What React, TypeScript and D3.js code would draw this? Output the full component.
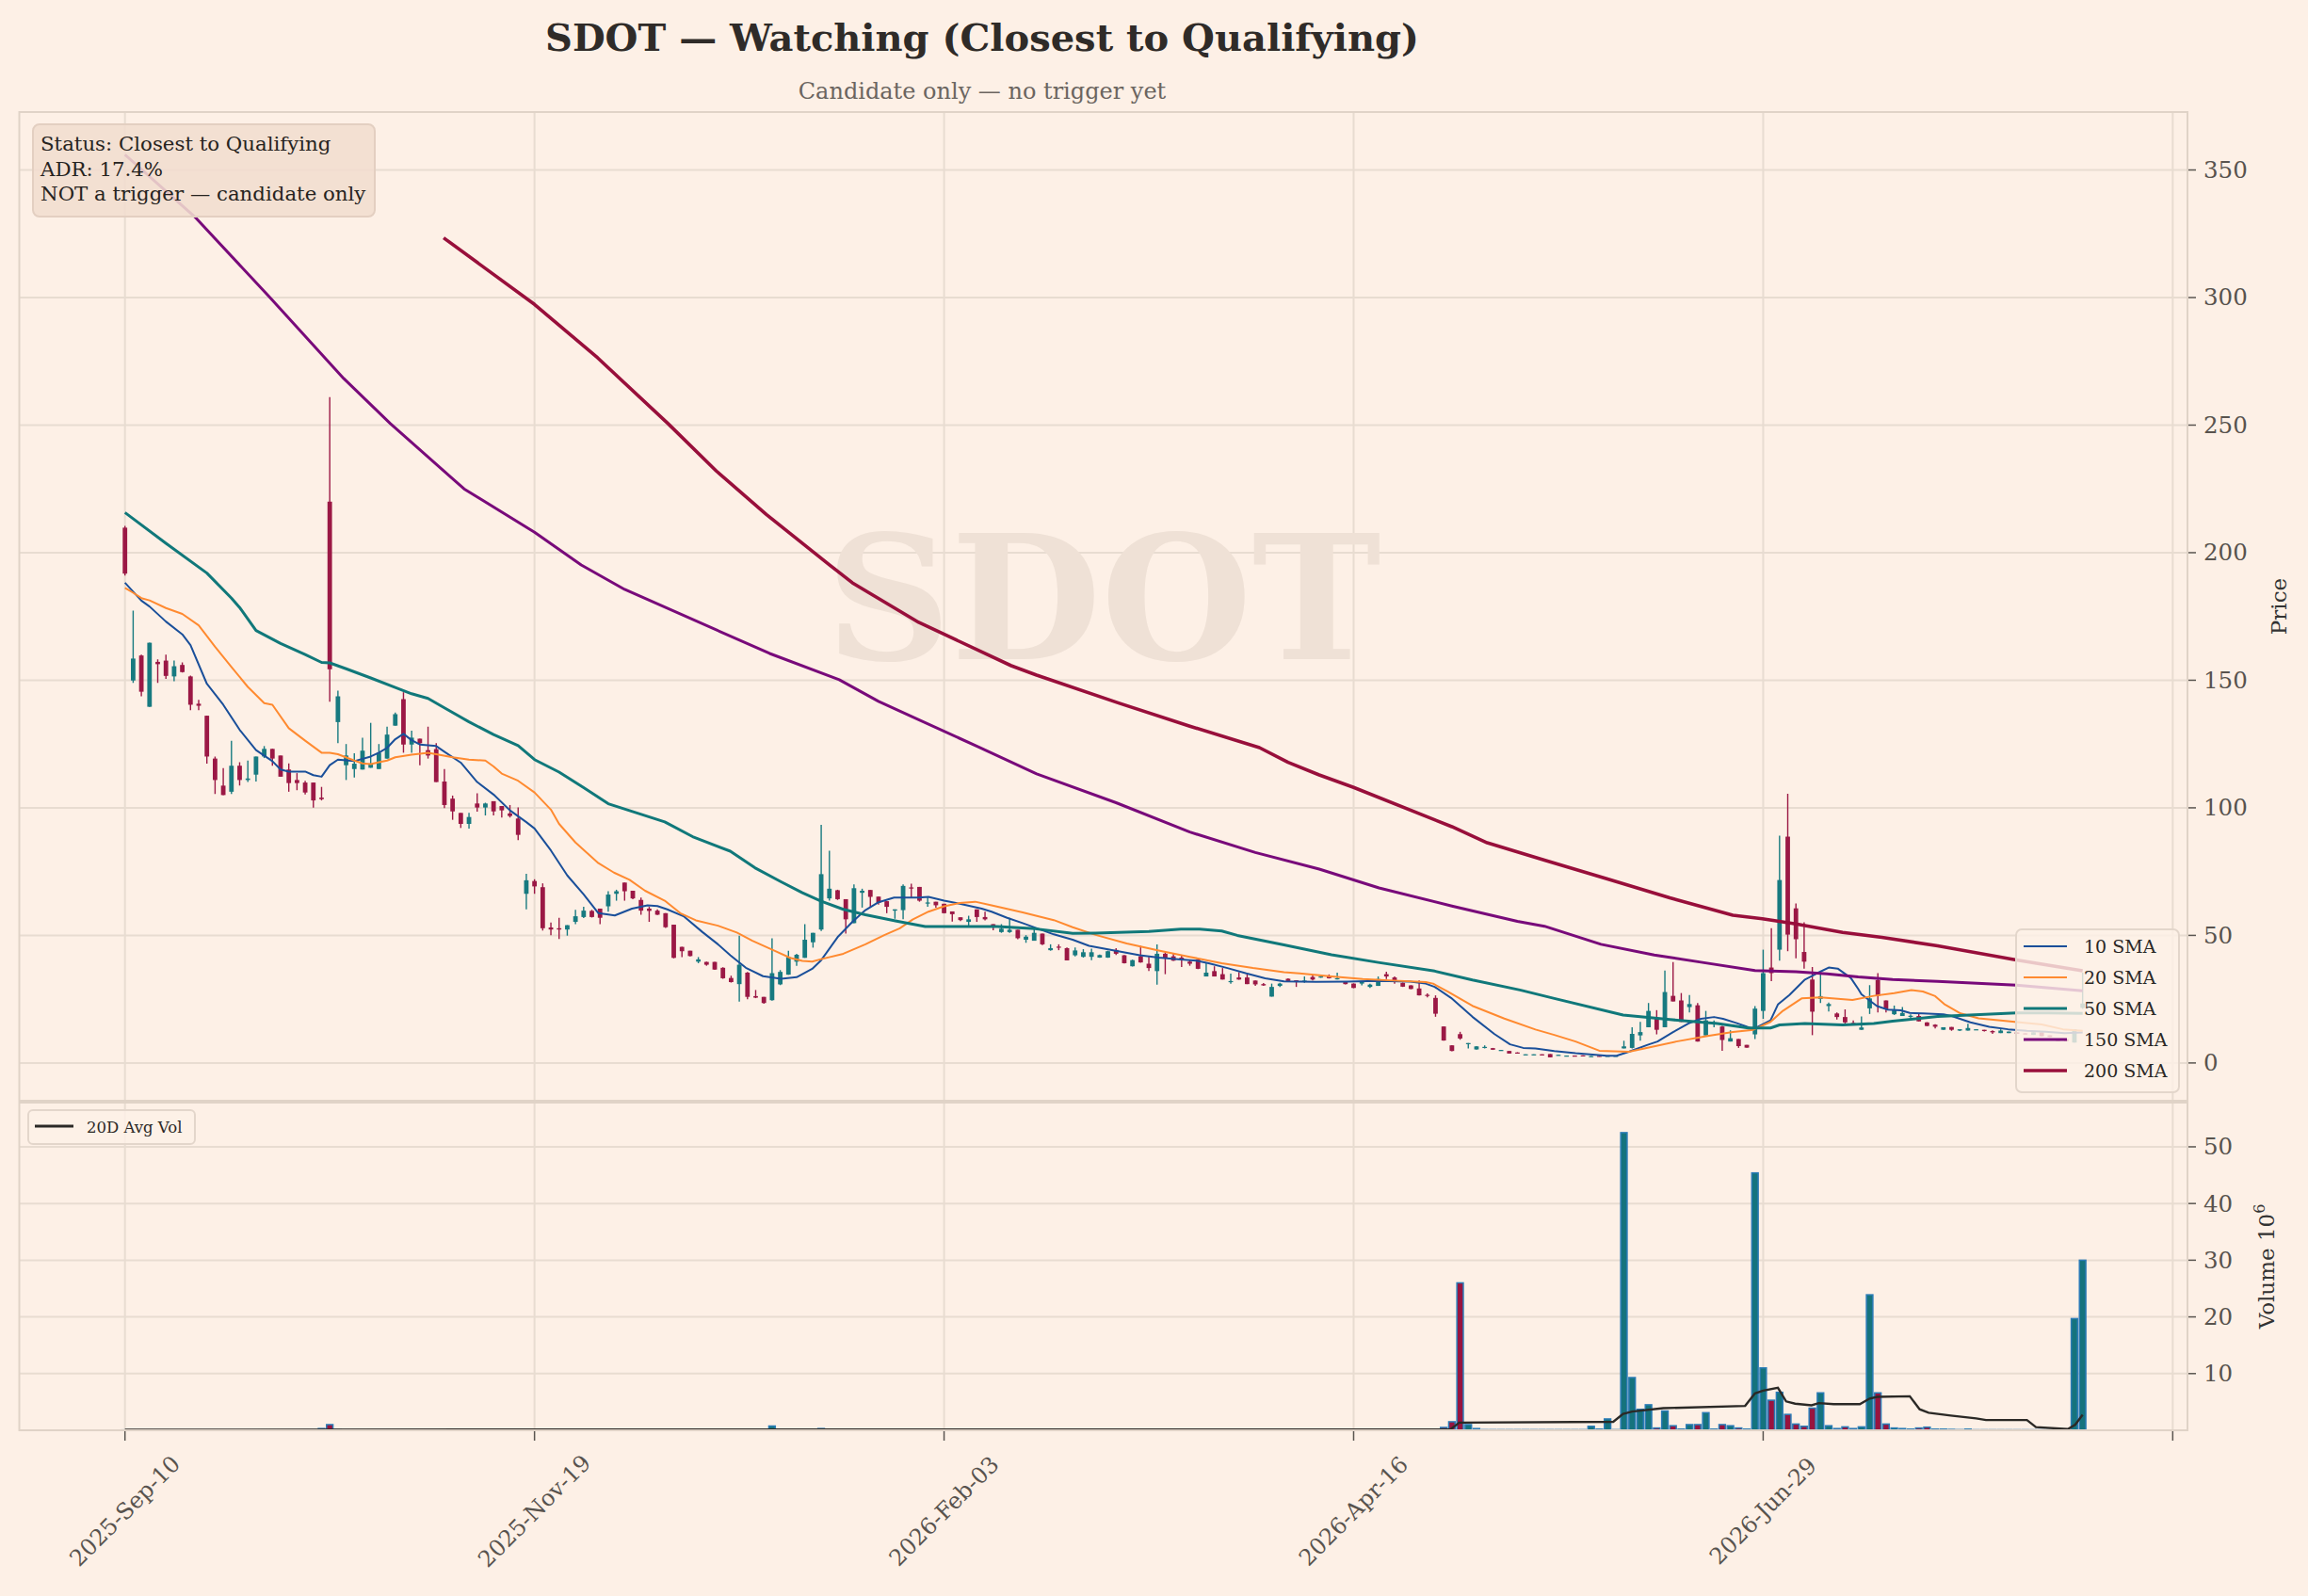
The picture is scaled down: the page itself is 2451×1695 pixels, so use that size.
import * as d3 from 'd3';

const W = 2451;
const H = 1695;

// x ticks are trading-day indices
const tickIdx = [0, 50, 100, 150, 200, 250];
const tickLabels = ['2025-Sep-10', '2025-Nov-19', '2026-Feb-03', '2026-Apr-16', '2026-Jun-29', ''];
const priceTicks = [0, 50, 100, 150, 200, 250, 300, 350];
const volTicks = [10, 20, 30, 40, 50];

const opens = [
  209.8, 149.9, 159.7, 139.6, 157.2, 157.7, 151.5, 156.0, 151.5, 140.8,
  136.1, 119.3, 108.7, 106.3, 116.5, 110.9, 113.0, 120.1, 123.1, 120.5,
  115.0, 110.9, 109.9, 109.9, 104.0, 220.0, 133.6, 116.7, 115.2, 115.0,
  115.7, 115.2, 119.3, 132.2, 142.6, 124.8, 127.1, 122.6, 123.0, 110.3,
  103.6, 98.0, 93.7, 101.7, 100.1, 102.6, 100.7, 97.8, 95.8, 66.3,
  71.3, 68.9, 53.1, 52.8, 52.3, 55.3, 57.2, 59.6, 60.5, 61.4,
  66.3, 70.7, 67.5, 63.9, 60.5, 59.7, 58.7, 54.2, 45.5, 44.0,
  39.7, 39.6, 39.6, 37.3, 33.3, 30.9, 35.4, 26.2, 25.9, 24.6,
  30.8, 34.6, 39.7, 41.2, 47.3, 52.3, 64.5, 67.7, 64.2, 54.8,
  66.7, 67.8, 65.2, 63.4, 59.7, 59.9, 68.8, 69.0, 62.6, 63.2,
  62.4, 59.4, 57.1, 55.3, 60.2, 57.2, 54.4, 51.3, 51.3, 52.2,
  48.3, 47.9, 50.7, 44.2, 45.6, 45.0, 42.2, 41.6, 41.6, 41.3,
  41.3, 44.3, 42.2, 37.9, 41.8, 38.9, 36.0, 42.8, 41.8, 41.3,
  39.7, 40.6, 33.9, 36.0, 34.8, 31.7, 33.5, 33.5, 32.3, 30.9,
  26.0, 30.2, 33.0, 32.4, 31.7, 33.7, 33.7, 34.2, 32.9, 31.9,
  31.1, 31.1, 29.8, 30.2, 34.8, 33.5, 31.4, 30.4, 29.2, 26.7,
  25.5, 14.3, 6.9, 11.3, 7.5, 5.3, 6.1, 5.8, 4.8, 4.7,
  4.1, 3.2, 3.2, 3.4, 3.5, 2.9, 2.6, 2.9, 3.0, 2.4,
  2.8, 2.5, 2.5, 5.7, 5.9, 10.8, 14.0, 17.7, 14.0, 26.3,
  24.5, 21.9, 22.6, 10.8, 15.5, 14.3, 8.4, 9.4, 7.1, 11.2,
  20.4, 37.4, 44.4, 88.7, 60.6, 43.5, 32.7, 25.1, 22.3, 19.4,
  18.0, 15.7, 13.0, 21.4, 32.5, 24.5, 19.1, 18.4, 18.2, 18.4,
  15.9, 15.0, 13.0, 14.1, 12.7, 12.7, 12.9, 13.0, 12.5, 11.7,
  11.7, 12.0, 11.6, 11.0, 12.0, 10.8, 9.5, 9.3, 8.0, 21.6,
];

const highs = [
  210.5, 177.3, 160.0, 164.7, 158.2, 160.0, 157.7, 157.0, 151.8, 142.3,
  136.1, 120.1, 115.6, 126.3, 117.9, 118.5, 120.1, 124.2, 123.1, 120.5,
  117.4, 113.6, 110.6, 109.9, 108.2, 261.0, 145.9, 125.0, 121.4, 127.5,
  133.3, 125.0, 131.8, 137.3, 145.3, 130.2, 127.1, 131.8, 125.3, 115.2,
  104.8, 98.0, 98.0, 105.7, 102.0, 102.6, 100.7, 101.1, 100.2, 74.1,
  72.0, 70.4, 55.0, 56.9, 54.0, 60.0, 61.2, 60.0, 60.5, 67.3,
  67.9, 70.7, 67.5, 64.8, 61.2, 60.2, 58.7, 54.2, 45.5, 44.0,
  41.5, 39.7, 39.6, 37.5, 34.2, 49.9, 35.7, 28.6, 25.9, 48.9,
  36.4, 44.0, 42.8, 54.4, 51.0, 93.3, 83.2, 67.9, 64.2, 70.0,
  68.3, 67.8, 65.2, 63.4, 60.2, 70.0, 70.3, 69.0, 64.8, 63.2,
  62.4, 59.4, 57.1, 57.7, 60.2, 59.3, 54.4, 54.4, 56.9, 52.2,
  50.1, 53.2, 50.7, 46.5, 46.5, 45.3, 45.3, 44.6, 44.8, 42.5,
  44.0, 45.0, 42.3, 40.5, 45.9, 41.6, 46.5, 43.4, 43.1, 42.2,
  40.3, 40.7, 39.4, 37.9, 37.2, 35.0, 35.6, 34.8, 32.3, 31.3,
  31.1, 31.4, 33.2, 32.4, 33.9, 34.4, 34.2, 34.7, 35.4, 32.0,
  31.2, 32.0, 31.1, 33.9, 35.8, 33.9, 31.5, 30.5, 32.3, 27.3,
  26.5, 14.4, 7.0, 12.2, 7.8, 6.6, 6.9, 5.9, 5.1, 4.7,
  4.2, 3.4, 3.4, 3.4, 3.5, 3.2, 2.9, 2.9, 3.0, 2.7,
  2.8, 2.8, 2.8, 8.7, 14.0, 16.1, 23.5, 20.7, 36.2, 39.5,
  27.4, 26.6, 23.5, 20.4, 16.7, 14.5, 12.8, 9.4, 7.1, 22.3,
  44.4, 52.8, 89.1, 105.5, 62.5, 55.1, 37.6, 35.2, 23.7, 19.8,
  21.0, 16.7, 18.2, 30.5, 35.2, 24.5, 22.5, 21.9, 19.1, 19.4,
  16.0, 15.2, 14.0, 14.1, 13.2, 15.4, 13.2, 13.0, 12.8, 13.2,
  12.3, 12.0, 11.6, 12.0, 12.0, 10.8, 9.5, 9.3, 13.2, 35.4,
];

const lows = [
  191.0, 149.0, 143.7, 139.6, 149.0, 150.5, 149.6, 153.0, 138.3, 138.3,
  117.3, 105.4, 105.0, 105.4, 108.7, 110.1, 110.3, 119.5, 116.5, 112.2,
  106.3, 106.9, 105.2, 100.1, 102.9, 141.6, 125.3, 110.9, 111.9, 115.0,
  115.7, 115.2, 119.3, 132.2, 121.6, 121.6, 116.7, 119.3, 110.1, 99.9,
  95.3, 92.1, 91.9, 98.5, 97.0, 97.0, 96.2, 96.2, 87.3, 60.2,
  66.3, 51.9, 50.1, 48.6, 49.9, 54.4, 56.8, 57.0, 54.4, 59.3,
  63.6, 63.6, 64.2, 58.1, 55.3, 58.0, 52.9, 41.0, 41.5, 41.8,
  39.1, 38.1, 36.5, 33.0, 31.5, 24.0, 25.0, 25.4, 23.2, 24.4,
  30.5, 34.6, 38.1, 41.2, 45.2, 51.7, 63.6, 63.9, 50.7, 54.8,
  60.9, 61.2, 62.1, 58.7, 56.5, 56.3, 64.8, 63.2, 61.2, 60.9,
  58.6, 55.4, 55.6, 53.6, 55.3, 55.9, 52.0, 51.0, 51.0, 48.5,
  47.1, 47.9, 46.2, 44.0, 44.2, 40.2, 41.8, 41.3, 40.3, 41.2,
  41.2, 42.3, 39.0, 37.8, 39.3, 36.0, 30.7, 34.8, 40.0, 37.6,
  38.1, 36.8, 33.9, 33.9, 32.7, 31.1, 32.6, 30.9, 30.2, 30.2,
  26.0, 29.8, 31.7, 29.8, 31.4, 32.3, 33.4, 33.1, 32.7, 30.8,
  29.3, 30.4, 29.4, 30.2, 32.9, 31.1, 29.8, 28.9, 26.4, 25.7,
  18.1, 8.7, 4.6, 9.1, 5.7, 5.2, 5.7, 5.1, 4.8, 3.7,
  3.8, 3.2, 3.2, 3.1, 2.2, 2.9, 2.6, 2.6, 2.7, 2.4,
  2.5, 2.5, 2.5, 5.7, 5.7, 8.7, 14.0, 11.2, 14.0, 24.1,
  16.1, 19.8, 8.4, 10.8, 14.0, 4.8, 8.4, 5.9, 6.0, 9.4,
  17.3, 32.1, 40.1, 43.8, 41.0, 37.0, 10.9, 23.5, 20.2, 17.0,
  15.5, 15.1, 13.0, 19.2, 19.8, 19.8, 18.8, 18.4, 17.5, 16.3,
  14.4, 13.5, 13.0, 12.6, 12.5, 12.7, 12.9, 12.3, 11.4, 11.7,
  11.7, 11.4, 11.3, 11.0, 10.5, 10.2, 8.5, 8.5, 8.0, 21.2,
];

const closes = [
  191.8, 158.5, 145.5, 164.7, 156.3, 151.7, 155.5, 153.2, 140.4, 140.0,
  120.1, 110.9, 105.0, 116.5, 110.9, 111.5, 120.1, 123.1, 119.3, 112.2,
  109.7, 109.7, 106.0, 102.9, 103.4, 154.3, 143.7, 120.5, 117.3, 122.4,
  117.4, 121.6, 128.7, 136.7, 124.8, 127.5, 125.3, 120.5, 110.1, 101.1,
  98.6, 93.7, 96.4, 100.1, 101.7, 98.6, 99.0, 96.8, 89.4, 71.6,
  69.2, 52.8, 52.3, 52.3, 54.0, 57.5, 59.7, 57.2, 56.9, 66.0,
  67.3, 67.3, 64.5, 59.7, 59.6, 58.1, 53.2, 41.2, 43.8, 41.9,
  40.6, 38.5, 36.6, 33.2, 31.7, 38.5, 25.9, 25.6, 23.5, 35.2,
  35.7, 41.5, 42.4, 48.3, 51.0, 74.0, 68.3, 64.2, 56.3, 68.5,
  67.5, 65.1, 62.8, 61.2, 60.2, 69.4, 68.5, 63.6, 62.9, 61.8,
  58.7, 58.3, 56.0, 56.3, 57.2, 56.3, 53.2, 52.6, 52.2, 48.9,
  49.5, 51.0, 46.5, 45.0, 45.3, 40.2, 44.1, 43.4, 43.4, 42.3,
  43.8, 42.8, 39.1, 40.3, 39.4, 37.2, 42.8, 41.3, 40.1, 40.6,
  38.9, 36.9, 35.4, 33.9, 32.7, 32.1, 32.7, 30.9, 30.8, 30.4,
  29.8, 31.1, 32.1, 31.7, 32.3, 32.7, 33.9, 33.2, 33.2, 30.9,
  29.4, 31.7, 30.7, 32.9, 33.9, 32.3, 29.9, 29.0, 26.5, 26.4,
  19.3, 8.8, 4.7, 9.6, 7.8, 6.5, 6.3, 5.2, 5.1, 3.7,
  3.8, 3.4, 3.4, 3.1, 2.2, 3.2, 2.9, 2.6, 2.7, 2.7,
  2.5, 2.8, 2.8, 6.5, 11.4, 12.1, 20.4, 13.0, 27.8, 24.1,
  16.1, 23.1, 8.4, 16.7, 15.9, 9.0, 9.7, 6.6, 6.0, 21.3,
  35.2, 35.2, 71.7, 50.3, 48.5, 39.7, 20.1, 26.2, 23.1, 18.0,
  15.9, 15.3, 13.9, 25.3, 26.3, 21.0, 20.6, 19.6, 18.5, 16.3,
  14.5, 14.2, 14.0, 13.0, 13.2, 13.7, 13.2, 12.5, 12.0, 12.7,
  12.3, 11.4, 11.3, 12.0, 10.5, 10.2, 8.5, 8.5, 13.2, 23.3,
];

// volume in millions
const volumes = [
  0.05, 0.05, 0.05, 0.05, 0.05, 0.05, 0.05, 0.05, 0.05, 0.05,
  0.05, 0.05, 0.05, 0.05, 0.05, 0.05, 0.05, 0.05, 0.05, 0.05,
  0.05, 0.05, 0.05, 0.05, 0.3, 1.0, 0.1, 0.05, 0.05, 0.05,
  0.05, 0.05, 0.05, 0.05, 0.05, 0.05, 0.05, 0.05, 0.05, 0.05,
  0.05, 0.05, 0.05, 0.05, 0.05, 0.05, 0.05, 0.05, 0.05, 0.05,
  0.05, 0.05, 0.05, 0.05, 0.05, 0.05, 0.05, 0.05, 0.05, 0.05,
  0.05, 0.05, 0.05, 0.05, 0.05, 0.05, 0.05, 0.05, 0.05, 0.05,
  0.05, 0.05, 0.05, 0.05, 0.05, 0.05, 0.05, 0.05, 0.05, 0.75,
  0.05, 0.05, 0.05, 0.05, 0.05, 0.3, 0.05, 0.05, 0.05, 0.05,
  0.05, 0.05, 0.05, 0.05, 0.05, 0.05, 0.05, 0.05, 0.05, 0.05,
  0.05, 0.05, 0.05, 0.05, 0.05, 0.05, 0.05, 0.05, 0.05, 0.05,
  0.05, 0.05, 0.05, 0.05, 0.05, 0.05, 0.05, 0.05, 0.05, 0.05,
  0.05, 0.05, 0.05, 0.05, 0.05, 0.05, 0.05, 0.05, 0.05, 0.05,
  0.05, 0.05, 0.05, 0.05, 0.05, 0.05, 0.05, 0.05, 0.05, 0.05,
  0.05, 0.05, 0.05, 0.05, 0.05, 0.05, 0.05, 0.05, 0.05, 0.05,
  0.05, 0.05, 0.05, 0.05, 0.05, 0.05, 0.05, 0.05, 0.05, 0.05,
  0.05, 0.5, 1.5, 26.0, 1.0, 0.3, 0.1, 0.1, 0.1, 0.1,
  0.1, 0.1, 0.1, 0.1, 0.1, 0.1, 0.1, 0.1, 0.1, 0.7,
  0.2, 2.0, 0.1, 52.5, 9.3, 3.7, 4.5, 0.4, 3.4, 0.8,
  0.2, 1.0, 1.0, 3.1, 0.2, 1.0, 0.8, 0.4, 0.2, 45.4,
  11.0, 5.3, 6.7, 2.8, 1.1, 0.7, 3.9, 6.6, 0.8, 0.3,
  0.6, 0.3, 0.6, 23.9, 6.6, 1.1, 0.4, 0.3, 0.2, 0.4,
  0.55, 0.2, 0.2, 0.15, 0.1, 0.2, 0.08, 0.08, 0.08, 0.08,
  0.08, 0.08, 0.08, 0.08, 0.08, 0.08, 0.08, 0.08, 19.7, 30.0,
];

// moving averages as [bar index, value]
const sma10: [number, number][] = [
  [0, 188.2], [2, 181.2], [3, 178.9], [5, 173], [7, 168], [8, 163.8], [10, 148.6], [12, 140.4],
  [14, 130.6], [16, 122.6], [18, 118.3], [19, 115], [20, 114.2], [22, 114.2], [23, 112.8], [24, 112.2],
  [25, 116.7], [26, 118.9], [28, 118.3], [30, 120.1], [31, 121.6], [32, 123.5], [33, 126.9], [34, 129],
  [35, 126.5], [36, 124.8], [38, 124.2], [39, 122], [41, 117.7], [43, 110.1], [45, 105.2], [47, 99],
  [49, 94.4], [50, 91.9], [52, 83.3], [54, 73.5], [56, 66.1], [57.8, 58.7], [59.8, 57.8], [61.9, 60.5],
  [63.8, 61.8], [65, 61.5], [66.2, 60.2], [68.2, 57.5], [70.5, 51.3], [72.4, 46.5], [73.9, 42.2],
  [75.8, 37.3], [77.9, 34], [80.1, 33], [82, 33.6], [83.9, 36.9], [85, 40.3], [87, 49.3], [88.9, 55.6],
  [90.4, 59.9], [92, 63], [93.9, 64.8], [96.9, 64.8], [98.1, 65.1], [100, 63.6], [101.9, 62.4],
  [104.6, 60.5], [105.8, 59.3], [107.7, 56.9], [109.6, 54.8], [111.5, 52.6], [113.4, 50.4], [115.7, 48.3],
  [117.7, 45.9], [120.8, 44.1], [123.9, 42.2], [126.2, 41.3], [128.9, 40.6], [130.8, 40.1], [132.3, 39.1],
  [134.6, 37.2], [136.9, 35.1], [139.2, 33.2], [141.5, 32], [145.4, 31.8], [149.2, 31.9], [153, 32.2],
  [156.9, 31.9], [158.8, 31.1], [159.9, 29.8], [161.9, 25.5], [164.5, 18.1], [167.2, 11.3], [169.1, 7.3],
  [170.7, 5.9], [172.2, 5.7], [174.5, 4.7], [177.1, 3.8], [180.9, 2.8], [182.1, 2.8], [183.6, 4.4],
  [185.9, 7.1], [187.1, 8.4], [189, 12.1], [190.9, 15.5], [192.4, 17.3], [194, 18], [195.1, 17.3],
  [196.7, 15.7], [197.8, 14.5], [198.8, 13.3], [200.9, 16.7], [201.8, 22.9], [203.2, 26.6], [205.1, 32.7],
  [206.6, 35.2], [208, 37.4], [209.1, 37], [210.7, 33.3], [211.6, 29], [212, 26.9], [213.9, 22.3],
  [215.2, 20.9], [216.8, 20.6], [217.9, 19.6], [219.5, 19.4], [222, 19.1], [223, 18.4], [225.3, 15.9],
  [227.6, 14.2], [229.9, 13.2], [232.2, 12.6], [234.5, 12.2], [236.8, 11.7], [239, 12.0],
];

const sma20: [number, number][] = [
  [0, 186.2], [1, 184.3], [2, 182.2], [3, 181.3], [5, 178.3], [7, 176], [9, 171.5], [11, 163.1],
  [13, 155.2], [15, 147.4], [17, 141], [18, 140.4], [20, 131.2], [22, 126.3], [24, 121.6], [25, 121.6],
  [26, 121], [28, 118.5], [29, 117.4], [30, 117.1], [31, 117.9], [32, 118.5], [33, 119.8], [35, 120.8],
  [37, 121.6], [38, 121], [40, 119.8], [42, 118.9], [44, 118.5], [45, 116.2], [46, 113.4], [48, 110.6],
  [50, 106], [52, 99.3], [53, 93.7], [55, 86.4], [57.8, 78.3], [59.7, 74.6], [61.6, 71.8], [63.5, 67.5],
  [65.9, 63.6], [67.8, 58.7], [69.7, 55.9], [72.4, 53.8], [74.7, 51.1], [76.6, 47.9], [78.9, 44.6],
  [81.2, 41.2], [82.7, 40], [83.9, 39.7], [85, 40.7], [87.7, 42.8], [90.4, 46.5], [92.7, 50.1],
  [94.6, 52.8], [96.2, 56.3], [98.1, 59.3], [100, 61.4], [101.9, 62.7], [103.8, 63.2], [105.8, 61.8],
  [109.6, 59], [113.4, 56], [115.7, 53.2], [118.5, 50.2], [122.3, 46.8], [126.2, 44.1], [130, 41.6],
  [133.9, 39.1], [137.7, 37.2], [141.5, 35.6], [143.4, 35.1], [147.3, 33.9], [151.1, 32.9], [154.9, 32.3],
  [158.8, 31.7], [159.7, 31.1], [161.5, 28], [164.5, 22.4], [168.4, 17.4], [172.2, 13.1], [174.5, 11.0],
  [177.1, 8.4], [180, 4.8], [183.6, 4.4], [185.5, 5.7], [189.4, 8.4], [193.2, 10.6], [196.3, 12.1],
  [198.8, 13], [200.9, 16.1], [202.4, 20.4], [204.7, 25.3], [207, 25.7], [210.9, 24.7], [213.5, 26.3],
  [216, 27.4], [218.1, 28.6], [219.5, 28], [221, 26.2], [222.1, 23.1], [224.1, 19.4], [226.3, 17.5],
  [229, 16.7], [231.3, 15.9], [234, 15.1], [236.6, 13.2], [239, 12.6],
];

const sma50: [number, number][] = [
  [0, 215.7], [5, 203.7], [10, 192], [13, 182.2], [14, 178.5], [16, 169.5], [19, 164.4], [22, 160.1],
  [24, 157], [25, 156.8], [27, 154.5], [30, 150.9], [33, 147.2], [35, 144.7], [37, 142.9], [39, 139.2],
  [42, 133.7], [45, 128.7], [48, 124.4], [50, 118.9], [53, 114], [56, 107.9], [59, 101.6], [61.6, 98.9],
  [65.9, 94.5], [69.3, 88.7], [73.9, 83], [76.9, 76.5], [80.1, 71], [82.7, 66.7], [85, 63.4],
  [87.7, 60.2], [90.4, 58.1], [94.2, 55.6], [97.7, 53.5], [101.9, 53.5], [106.5, 53.5], [111.1, 52.6],
  [115.7, 50.8], [118.5, 50.9], [125, 51.5], [128.9, 52.5], [131.2, 52.5], [133.9, 51.7], [135.8, 50],
  [141.5, 46.3], [147.3, 42.4], [153, 39.4], [159.9, 36], [164.5, 32.5], [170.3, 28.6], [174.5, 25.3],
  [182.9, 18.8], [188.6, 17], [194.4, 15.5], [198.2, 13.7], [200.9, 13.7], [202, 14.9], [205.1, 15.5],
  [209.7, 14.9], [213.5, 15.5], [215.8, 16.4], [217.5, 16.9], [221.3, 18.2], [225.2, 18.8],
  [230.9, 19.6], [234.8, 19.6], [239, 19.4],
];

const sma150: [number, number][] = [
  [0, 356], [8.5, 331.7], [17.6, 300.4], [26.7, 268.3], [32.4, 250.6], [41.4, 225], [50, 208],
  [55.7, 195.2], [61, 185.6], [78.7, 160.5], [87.2, 150.2], [92, 141.7], [104.1, 124], [111.3, 113.3],
  [121, 102], [130, 90.5], [138, 82.5], [145.8, 76], [153.1, 68.6], [162, 61.5], [170, 55.5],
  [173.3, 53.6], [180.2, 46.5], [186.7, 42.3], [192.4, 39.5], [199, 36.2], [204, 35.8], [207.8, 34.9],
  [211.6, 33.7], [215.8, 32.7], [221.3, 32], [230.9, 30.5], [239, 28.3],
];

const sma200: [number, number][] = [
  [38.9, 323.4], [50, 297.3], [57.7, 276.4], [66.3, 250.6], [72.2, 232], [78.3, 215], [86, 195.2],
  [88.8, 188.2], [96.9, 172.7], [108.2, 155.7], [111.3, 152], [121.4, 141], [130, 132], [138.5, 123.6],
  [142, 117.8], [145.8, 112.9], [150, 108], [162, 92.6], [166.3, 86.3], [173.3, 79.5], [181, 72.1],
  [188.6, 64.7], [196.3, 57.9], [199.9, 56.5], [204, 54.5], [209.7, 51.2], [214.5, 49.2], [221.3, 45.9],
  [230.9, 40.4], [239, 36.1],
];

const avgVol20: [number, number][] = [
  [0, 0.1], [161.8, 0.15], [162.9, 1.35], [181.7, 1.5], [182.9, 2.9], [184, 3.3], [187.8, 3.9],
  [197.8, 4.3], [199, 6.5], [200, 7.0], [201.8, 7.5], [202.8, 5.1], [203.9, 4.7], [205.9, 4.4],
  [206.8, 4.8], [208.6, 4.6], [211.8, 4.6], [213, 5.6], [213.9, 5.9], [217.9, 6.0], [219.1, 3.7],
  [220.2, 3.1], [222.9, 2.6], [226, 2.1], [227.2, 1.8], [232.2, 1.8], [233.3, 0.55], [237.2, 0.2],
  [238.1, 1.0], [239, 2.75],
];

const smaLabels = ['10 SMA', '20 SMA', '50 SMA', '150 SMA', '200 SMA'];
const statusLines = ['Status: Closest to Qualifying', 'ADR: 17.4%', 'NOT a trigger — candidate only'];

const BG = '#fdf0e6';
const GRID = '#e8dcd1';
const SPINE = '#e0d3c7';
const UP = '#177a80';
const DOWN = '#9b1845';
const smaStyle = [
  { color: '#1a4f9a', width: 2 },
  { color: '#ff8a30', width: 2 },
  { color: '#10787a', width: 3 },
  { color: '#780a7a', width: 3 },
  { color: '#980f3b', width: 3.6 },
];

export default function App() {
  const L = 20.5;
  const R = 2323;
  const PT = 119;
  const PB = 1169;
  const VT = 1171;
  const VB = 1519;

  const x = d3.scaleLinear().domain([-12.9, 251.8]).range([L, R]);
  const yP = d3.scaleLinear().domain([-14.8, 372.7]).range([PB, PT]);
  const yV = d3.scaleLinear().domain([0, 57.8]).range([VB, VT]);

  const lineP = d3.line<[number, number]>().x((d) => x(d[0])).y((d) => yP(d[1]));
  const lineV = d3.line<[number, number]>().x((d) => x(d[0])).y((d) => yV(d[1]));

  const smaData = [sma10, sma20, sma50, sma150, sma200];
  const bodyW = 4.8;
  const volW = 6.8;

  return (
    <div style={{ position: 'absolute', left: 0, top: 0 }}>
      <svg width={W} height={H} style={{ display: 'block' }} fontFamily="'DejaVu Serif', serif">
        <defs>
          <clipPath id="pclip">
            <rect x={L} y={PT} width={R - L} height={PB - PT} />
          </clipPath>
          <clipPath id="vclip">
            <rect x={L} y={VT} width={R - L} height={VB - VT} />
          </clipPath>
        </defs>
        <rect width={W} height={H} fill={BG} />

        {/* titles */}
        <text x={1043} y={54} textAnchor="middle" fontSize={40} fontWeight="bold" fill="#2f2b28">
          SDOT — Watching (Closest to Qualifying)
        </text>
        <text x={1043} y={105} textAnchor="middle" fontSize={24} fill="#6b6560">
          Candidate only — no trigger yet
        </text>

        {/* grids */}
        {priceTicks.map((t) => (
          <line key={'pg' + t} x1={L} x2={R} y1={yP(t)} y2={yP(t)} stroke={GRID} strokeWidth={2} />
        ))}
        {volTicks.map((t) => (
          <line key={'vg' + t} x1={L} x2={R} y1={yV(t)} y2={yV(t)} stroke={GRID} strokeWidth={2} />
        ))}
        {tickIdx.map((t) => (
          <g key={'xg' + t}>
            <line x1={x(t)} x2={x(t)} y1={PT} y2={PB} stroke={GRID} strokeWidth={2} />
            <line x1={x(t)} x2={x(t)} y1={VT} y2={VB} stroke={GRID} strokeWidth={2} />
          </g>
        ))}

        {/* watermark */}
        <text x={(L + R) / 2} y={700} textAnchor="middle" fontSize={184} fontWeight="bold" fill="#efe1d6">
          SDOT
        </text>

        {/* candles */}
        <g clipPath="url(#pclip)">
          {opens.map((o, i) => {
            const c = closes[i];
            const col = c >= o ? UP : DOWN;
            const top = yP(Math.max(o, c));
            const h = Math.max(1.2, Math.abs(yP(o) - yP(c)));
            return (
              <g key={'c' + i}>
                <line x1={x(i)} x2={x(i)} y1={yP(highs[i])} y2={yP(lows[i])} stroke={col} strokeWidth={1.4} />
                <rect x={x(i) - bodyW / 2} y={top} width={bodyW} height={h} fill={col} />
              </g>
            );
          })}
          {smaData.map((d, k) => (
            <path key={'s' + k} d={lineP(d) || ''} fill="none" stroke={smaStyle[k].color}
              strokeWidth={smaStyle[k].width} strokeLinejoin="round" />
          ))}
        </g>

        {/* volume */}
        <g clipPath="url(#vclip)">
          {volumes.map((v, i) => (
            <rect key={'v' + i} x={x(i) - volW / 2} y={yV(v)} width={volW} height={VB - yV(v)}
              fill={closes[i] >= opens[i] ? '#15737d' : '#98143f'} stroke="#2a7bb6" strokeWidth={1.5} />
          ))}
          <path d={lineV(avgVol20) || ''} fill="none" stroke="#2b2926" strokeWidth={2.4} />
        </g>

        {/* spines */}
        <rect x={L} y={PT} width={R - L} height={PB - PT} fill="none" stroke={SPINE} strokeWidth={2} />
        <rect x={L} y={VT} width={R - L} height={VB - VT} fill="none" stroke={SPINE} strokeWidth={2} />

        {/* right axes */}
        {priceTicks.map((t) => (
          <g key={'pt' + t}>
            <line x1={R + 1} x2={R + 9} y1={yP(t)} y2={yP(t)} stroke="#5a5550" strokeWidth={1.5} />
            <text x={R + 17} y={yP(t)} dominantBaseline="central" fontSize={24.5} fill="#58534e">{t}</text>
          </g>
        ))}
        {volTicks.map((t) => (
          <g key={'vt' + t}>
            <line x1={R + 1} x2={R + 9} y1={yV(t)} y2={yV(t)} stroke="#5a5550" strokeWidth={1.5} />
            <text x={R + 17} y={yV(t)} dominantBaseline="central" fontSize={24.5} fill="#58534e">{t}</text>
          </g>
        ))}
        <text transform={`translate(2428,${(PT + PB) / 2}) rotate(-90)`} textAnchor="middle" fontSize={23} fill="#333">
          Price
        </text>
        <text transform={`translate(2415,${(VT + VB) / 2}) rotate(-90)`} textAnchor="middle" fontSize={23} fill="#333">
          Volume  10<tspan dy={-10} fontSize={16}>6</tspan>
        </text>

        {/* bottom axis */}
        {tickIdx.map((t, k) => (
          <g key={'xt' + t}>
            <line x1={x(t)} x2={x(t)} y1={VB + 1} y2={VB + 11} stroke="#5a5550" strokeWidth={1.5} />
            <text transform={`translate(${x(t)},1605) rotate(-45)`} textAnchor="middle" dominantBaseline="central"
              fontSize={24} fill="#58534e">{tickLabels[k]}</text>
          </g>
        ))}

        {/* status box */}
        <rect x={35} y={132} width={363} height={98} rx={7} fill="#f1ddcf" fillOpacity={0.88} stroke="#e3cfc1" strokeWidth={2} />
        {statusLines.map((s, k) => (
          <text key={'st' + k} x={43} y={160 + k * 26.5} fontSize={21.3} fill="#262320">{s}</text>
        ))}

        {/* SMA legend */}
        <rect x={2141} y={987} width={173} height={173} rx={6} fill={BG} fillOpacity={0.82} stroke="#e3d6cb" strokeWidth={2} />
        {smaLabels.map((s, k) => (
          <g key={'lg' + k}>
            <line x1={2149} x2={2195} y1={1005 + k * 33} y2={1005 + k * 33} stroke={smaStyle[k].color}
              strokeWidth={smaStyle[k].width} />
            <text x={2213} y={1005 + k * 33} dominantBaseline="central" fontSize={19} fill="#2b2825">{s}</text>
          </g>
        ))}

        {/* volume legend */}
        <rect x={30} y={1179} width={177} height={36} rx={5} fill={BG} fillOpacity={0.82} stroke="#e3d6cb" strokeWidth={2} />
        <line x1={37} x2={78} y1={1196} y2={1196} stroke="#2b2926" strokeWidth={3} />
        <text x={92} y={1197} dominantBaseline="central" fontSize={16.5} fill="#2b2825">20D Avg Vol</text>
      </svg>
    </div>
  );
}
